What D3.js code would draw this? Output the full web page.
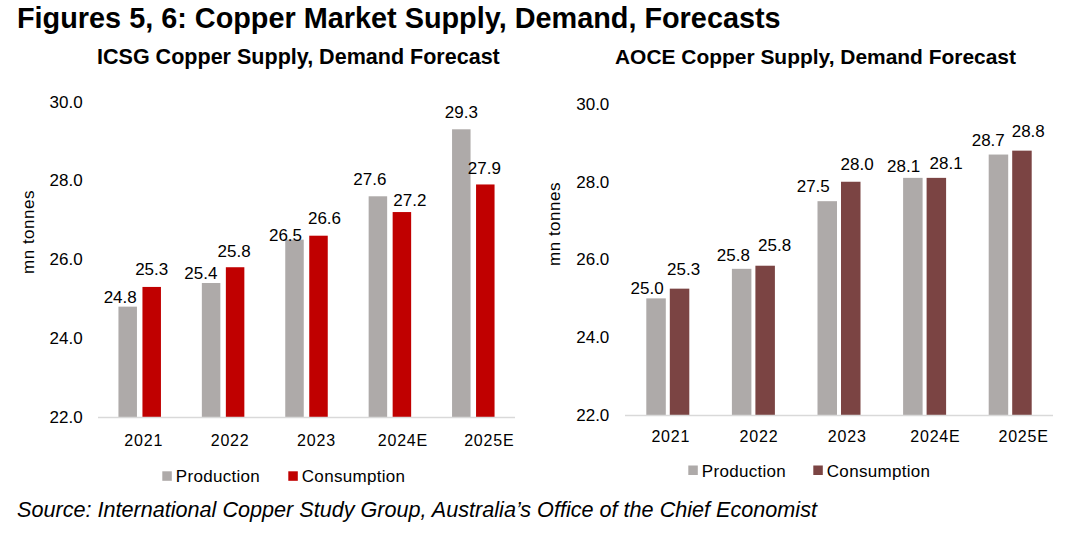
<!DOCTYPE html>
<html><head><meta charset="utf-8">
<script src="https://cdn.jsdelivr.net/npm/d3@7"></script>
<style>
body{margin:0;background:#fff}
svg{display:block}
text{font-family:Arial,"Liberation Sans",Helvetica,sans-serif;fill:#000}
</style>
</head><body>
<svg id="c" width="1077" height="535"></svg>
<script>
// ---- data ----
const categories = ["2021", "2022", "2023", "2024E", "2025E"];
const seriesNames = ["Production", "Consumption"];
const icsgProduction = [24.8, 25.4, 26.5, 27.6, 29.3];
const icsgConsumption = [25.3, 25.8, 26.6, 27.2, 27.9];
const aoceProduction = [25.0, 25.76, 27.5, 28.1, 28.7];
const aoceConsumption = [25.25, 25.84, 28.0, 28.1, 28.8];
const yTicks = [22, 24, 26, 28, 30];
const yDomain = [22, 30];

const titleText = "Figures 5, 6: Copper Market Supply, Demand, Forecasts";
const icsgTitle = "ICSG Copper Supply, Demand Forecast";
const aoceTitle = "AOCE Copper Supply, Demand Forecast";
const yTitle = "mn tonnes";
const sourceText = "Source: International Copper Study Group, Australia\u2019s Office of the Chief Economist";

// ---- layout (label nudges in px: [dx, dy]) ----
const icsgNudge = [
  [[-7.5, 8], [-10.3, 7.5], [-9, 12.5], [-8, 0], [0, 0]],
  [[0, 0], [-1, 1], [6, 0], [8, 5], [-1, 1]]
];
const aoceNudge = [
  [[-9, 7.5], [-8.3, 4], [-14, 2.5], [-9.2, 6], [-10.2, 2.5]],
  [[4, -1.8], [9.4, -3.5], [6.4, 0], [9.8, 3], [6.3, -2]]
];

const svg = d3.select("#c");

function fitText(sel, target) {
  const fs = parseFloat(sel.attr("font-size"));
  const w = sel.node().getComputedTextLength();
  sel.attr("font-size", (fs * target / w).toFixed(2));
}

// Title
svg.append("text").attr("x", 17).attr("y", 28).attr("font-size", 26)
  .attr("font-weight", "bold").text(titleText).call(fitText, 764);

function panel(cfg) {
  const g = svg.append("g");
  const x0 = d3.scaleBand().domain(categories).range(cfg.xRange);
  const p = cfg.gap / (cfg.bw + cfg.gap);
  const x1 = d3.scaleBand().domain(seriesNames).range([0, 2 * cfg.bw + cfg.gap]).paddingInner(p);
  const y = d3.scaleLinear().domain(yDomain).range(cfg.yRange);

  // subtitle
  g.append("text").attr("x", cfg.subX).attr("y", 64).attr("font-size", 20)
    .attr("font-weight", "bold").text(cfg.title).call(fitText, cfg.subW);

  // y axis
  const ya = g.append("g").attr("transform", `translate(${cfg.xRange[0]},0)`)
    .call(d3.axisLeft(y).tickValues(yTicks).tickFormat(d3.format(".1f")).tickSize(0).tickPadding(cfg.tickPad));
  ya.select(".domain").remove();
  ya.selectAll("text").attr("font-size", 17).style("font-family", "Arial, 'Liberation Sans', sans-serif").attr("fill", "#000");

  // y title
  g.append("text").attr("transform", `translate(${cfg.yTitleX},${cfg.yTitleY}) rotate(-90)`)
    .attr("text-anchor", "middle").attr("dominant-baseline", "central")
    .attr("font-size", 17).attr("letter-spacing", 0.5).text(yTitle);

  // bars
  const series = [cfg.prod, cfg.cons];
  const colors = ["#AEAAA9", cfg.consColor];
  series.forEach((vals, si) => {
    const sg = g.append("g");
    sg.selectAll("rect").data(vals).join("rect")
      .attr("x", (d, i) => x0(categories[i]) + x0.bandwidth() / 2 - (2 * cfg.bw + cfg.gap) / 2 + x1(seriesNames[si]))
      .attr("width", x1.bandwidth())
      .attr("y", d => y(d))
      .attr("height", d => y(yDomain[0]) - y(d))
      .attr("fill", colors[si]);
    sg.selectAll("text").data(vals).join("text")
      .attr("x", (d, i) => x0(categories[i]) + x0.bandwidth() / 2 - (2 * cfg.bw + cfg.gap) / 2 + x1(seriesNames[si]) + x1.bandwidth() / 2 + cfg.nudge[si][i][0])
      .attr("y", (d, i) => y(d) - 11.5 + cfg.nudge[si][i][1])
      .attr("text-anchor", "middle").attr("font-size", 17)
      .text(d => d3.format(".1f")(d));
  });

  // baseline
  g.append("line").attr("x1", cfg.xRange[0]).attr("x2", cfg.xRange[1])
    .attr("y1", y(yDomain[0]) + 0.5).attr("y2", y(yDomain[0]) + 0.5)
    .attr("stroke", "#D9D9D9").attr("stroke-width", 1.5);

  // category axis
  const xl = d3.scaleBand().domain(categories).range(cfg.labelRange);
  const xa = g.append("g").attr("transform", `translate(0,${cfg.catY})`)
    .call(d3.axisBottom(xl).tickSize(0).tickPadding(0));
  xa.select(".domain").remove();
  xa.selectAll("text").attr("dy", null).attr("y", 0).attr("font-size", 16)
    .attr("letter-spacing", 0.8).style("font-family", "Arial, 'Liberation Sans', sans-serif").attr("fill", "#000");

  // legend
  const lg = g.append("g");
  seriesNames.forEach((n, i) => {
    lg.append("rect").attr("x", cfg.legX[i]).attr("y", cfg.legY - 11).attr("width", 9.5).attr("height", 9.5).attr("fill", colors[i]);
    lg.append("text").attr("x", cfg.legX[i] + 13.5).attr("y", cfg.legY).attr("font-size", 17)
      .attr("letter-spacing", 0.3).text(n);
  });
}

panel({
  title: icsgTitle, subX: 97, subW: 403,
  xRange: [98, 515], yRange: [417, 101.7], bw: 18.5, gap: 5.5, tickPad: 15.3,
  prod: icsgProduction, cons: icsgConsumption, consColor: "#C00000", nudge: icsgNudge,
  yTitleX: 28, yTitleY: 232,
  labelRange: [100.5, 532.5], catY: 446,
  legX: [162.3, 288.3], legY: 482.3
});
panel({
  title: aoceTitle, subX: 615, subW: 401,
  xRange: [625, 1053], yRange: [415, 104], bw: 19.5, gap: 4, tickPad: 15.7,
  prod: aoceProduction, cons: aoceConsumption, consColor: "#7B4443", nudge: aoceNudge,
  yTitleX: 554, yTitleY: 224,
  labelRange: [626.7, 1067.7], catY: 441.7,
  legX: [688.3, 813.3], legY: 476.5
});

// source
svg.append("text").attr("x", 17).attr("y", 517).attr("font-size", 19)
  .attr("font-style", "italic").text(sourceText).call(fitText, 800);
</script>
</body></html>
